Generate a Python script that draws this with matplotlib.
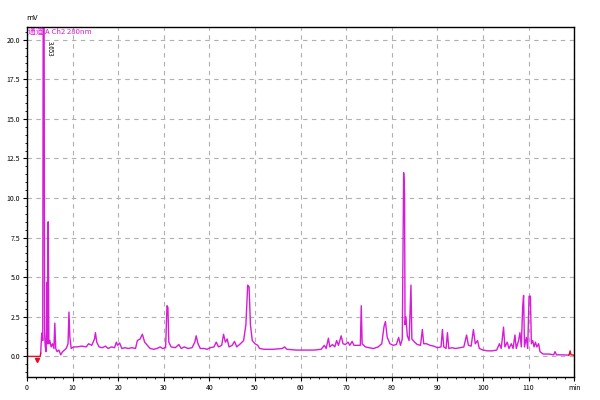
import matplotlib
matplotlib.use("Agg")
import matplotlib.pyplot as plt
from matplotlib.ticker import MultipleLocator

plt.rcParams['font.family'] = ['Noto Sans CJK SC', 'DejaVu Sans']

# retention time (min) and signal (mV)
rt = [3.0, 3.2, 3.35, 3.45, 3.55, 3.75, 3.85, 4.0, 4.2, 4.4, 4.5, 4.65, 4.8, 5.0,
      5.3, 5.6, 5.9, 6.1, 6.3, 6.6, 7.0, 7.4, 7.8, 8.2, 8.6, 9.0, 9.2, 9.4, 9.7,
      10.2, 11.0, 12.0, 13.0, 13.5, 14.2, 14.8, 15.0, 15.3, 15.8, 16.5, 17.2,
      17.8, 18.5, 19.2, 19.6, 19.9, 20.3, 20.8, 21.5, 22.2, 23.0, 23.8, 24.2,
      24.8, 25.3, 25.8, 26.4, 27.0, 27.8, 28.5, 29.2, 29.7, 30.4, 30.7, 30.9,
      31.1, 31.6, 32.5, 33.3, 33.8, 34.5, 35.3, 36.2, 36.8, 37.1, 37.5, 38.0,
      38.8, 39.5, 40.2, 41.0, 41.5, 42.0, 42.7, 43.1, 43.5, 43.9, 44.3, 45.0,
      45.5, 46.0, 46.8, 47.5, 48.0, 48.4, 48.7, 49.0, 49.4, 50.0, 50.6, 51.0,
      52.0, 54.0, 56.0, 56.5, 57.0, 59.0, 61.0, 63.0, 64.5, 65.2, 65.6, 66.1,
      66.4, 67.0, 67.5, 67.9, 68.3, 68.9, 69.3, 69.8, 70.4, 70.8, 71.3, 71.7,
      72.3, 73.1, 73.3, 73.5, 74.2, 75.0, 76.0, 77.0, 77.8, 78.3, 78.6, 79.0,
      79.6, 80.3, 81.0, 81.5, 81.9, 82.3, 82.6, 82.8, 82.9, 83.1, 83.4, 83.8,
      84.2, 84.4, 85.0, 85.6, 86.3, 86.7, 87.0, 87.6, 88.4, 89.2, 90.0, 90.8,
      91.1, 91.4, 91.9, 92.2, 92.5, 93.2, 94.0, 95.0, 95.8, 96.4, 96.8, 97.4,
      97.9, 98.3, 98.8, 99.2, 100.0, 101.0, 102.0, 103.0, 103.6, 104.0, 104.5,
      104.8, 105.3, 105.7, 106.2, 106.6, 107.0, 107.3, 107.8, 108.1, 108.4,
      108.7, 108.9, 109.1, 109.5, 109.8, 110.1, 110.4, 110.6, 110.9, 111.2,
      111.5, 111.8, 112.2, 112.5, 113.2, 114.5, 115.5, 115.8, 116.1, 117.5, 118.8]
mv = [0.2, 1.3, 1.5, 1.0, 22.0, 22.0, 1.5, 0.6, 0.3, 4.7, 0.8, 8.5, 0.8, 1.0,
      0.6, 0.8, 0.5, 2.1, 0.5, 0.3, 0.4, 0.1, 0.3, 0.4, 0.5, 0.8, 2.8, 1.2, 0.5,
      0.6, 0.6, 0.65, 0.6, 0.8, 0.7, 1.1, 1.5, 0.9, 0.6, 0.55, 0.65,
      0.5, 0.6, 0.55, 0.9, 0.7, 0.85, 0.5, 0.55, 0.5, 0.55, 0.5, 1.0,
      1.1, 1.4, 0.9, 0.7, 0.5, 0.45, 0.5, 0.6, 0.5, 0.55, 3.2, 3.1,
      0.9, 0.6, 0.55, 0.75, 0.5, 0.6, 0.5, 0.55, 0.9, 1.3, 0.8, 0.5,
      0.5, 0.45, 0.55, 0.6, 0.9, 0.6, 0.7, 1.4, 0.9, 1.1, 0.6, 0.7,
      0.95, 0.6, 0.8, 1.0, 2.0, 4.5, 4.4, 2.0, 1.0, 0.8, 0.7, 0.5,
      0.45, 0.45, 0.5, 0.6, 0.45, 0.4, 0.4, 0.4, 0.45, 0.7, 0.5, 1.15,
      0.6, 0.75, 0.6, 1.0, 0.7, 1.3, 0.8, 0.75, 0.9, 0.7, 0.95, 0.7,
      0.7, 0.7, 3.2, 0.8, 0.6, 0.55, 0.5, 0.6, 0.8, 1.9, 2.2, 1.2,
      0.8, 0.7, 0.75, 1.2, 0.7, 1.1, 11.6, 10.3, 2.0, 2.5, 1.3, 1.0,
      4.5, 1.1, 0.9, 0.75, 0.7, 1.7, 0.8, 0.8, 0.7, 0.65, 0.55, 0.6,
      1.7, 0.6, 0.5, 1.5, 0.5, 0.55, 0.5, 0.55, 0.6, 1.35, 0.7, 0.65,
      1.7, 0.8, 1.0, 0.5, 0.4, 0.35, 0.35, 0.4, 0.8, 0.5, 1.85,
      0.6, 0.9, 0.5, 0.8, 0.5, 1.35, 0.5, 1.0, 1.5, 0.6,
      3.15, 3.85, 0.6, 1.2, 0.5, 3.8, 3.8, 0.8, 1.0, 0.6,
      0.9, 0.6, 0.8, 0.3, 0.15, 0.15, 0.1, 0.3, 0.1, 0.1, 0.08]

# parts drawn in red by the software
rt_start = [0.0, 2.5, 2.9, 3.0]
mv_start = [0.0, 0.0, 0.0, 0.2]
rt_end = [118.8, 118.9, 119.1, 119.3, 120.0]
mv_end = [0.08, 0.1, 0.35, 0.1, 0.08]

fig = plt.figure(figsize=(6, 4), dpi=100)
ax = fig.add_axes([0.045, 0.0575, 0.912, 0.875])

ax.plot(rt, mv, color='#D61CD6', lw=1.0)
ax.plot(rt_start, mv_start, color='#E0102A', lw=1.0)
ax.plot(rt_end, mv_end, color='#E0102A', lw=1.0)
ax.plot([2.3], [-0.25], marker='v', ms=3, color='#E0102A')

ax.set_xlim(0, 120)
ax.set_ylim(-1.3, 20.8)
ax.xaxis.set_minor_locator(MultipleLocator(2))
ax.yaxis.set_minor_locator(MultipleLocator(0.5))
xt = list(range(0, 121, 10))
ax.set_xticks(xt)
ax.set_xticklabels([str(t) for t in xt[:-1]] + ['min'])
ax.set_yticks([i * 2.5 for i in range(9)])
ax.set_yticklabels(['%.1f' % (i * 2.5) for i in range(9)])
ax.tick_params(labelsize=5, length=3, width=0.8, pad=2)
ax.tick_params(which='minor', length=1.5, width=0.6)

ax.grid(True, color='#B0B0B0', linestyle=(0, (4, 4)), lw=0.8)
for s in ax.spines.values():
    s.set_linewidth(1.0)
    s.set_color('black')

ax.text(-0.1, 21.1, 'mV', fontsize=5.5, ha='left', va='bottom')
ax.text(0.3, 20.75, '通道 A Ch2 280nm', fontsize=5.5, color='#D61CD6',
        ha='left', va='top')
ax.text(4.1, 19.9, '3.653', fontsize=4.5, rotation=-90, ha='left', va='top')

fig.savefig('out.png', dpi=100)
